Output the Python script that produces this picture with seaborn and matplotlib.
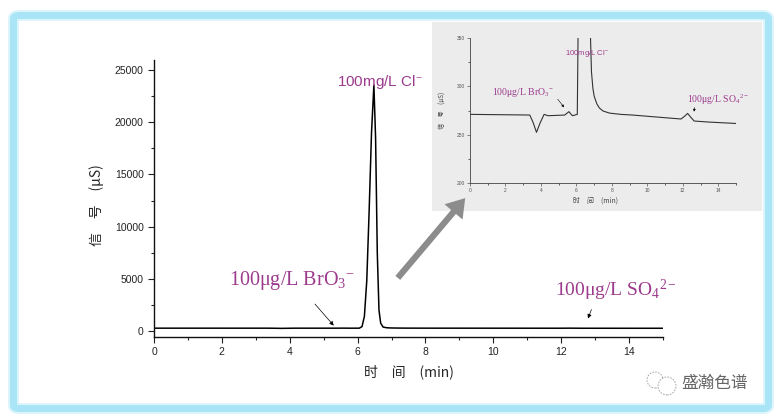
import numpy as np
import pandas as pd
import seaborn as sns
import matplotlib
matplotlib.use("Agg")
import matplotlib.pyplot as plt
from matplotlib.patches import FancyBboxPatch, FancyArrowPatch, Rectangle, Ellipse
from matplotlib.ticker import MultipleLocator

# chromatogram (time in min, signal in uS)
time_min = [0, 1, 2, 3, 3.37, 3.55, 3.75, 3.95, 4.18, 4.4, 5.34, 5.58, 5.77,
            6.05, 6.13, 6.2, 6.27, 6.34, 6.41, 6.48, 6.53, 6.58, 6.63, 6.68,
            6.75, 6.85, 6.93, 7.0, 7.15, 7.3, 7.5, 7.87, 8.5, 9.16, 11.9,
            12.1, 12.27, 12.45, 12.64, 13.5, 14.9, 15]
signal_us = [271, 270.8, 270.6, 270.4, 270.3, 263, 252.4, 262, 271, 269.6,
             270.3, 273.8, 269.6, 271, 420, 1400, 4800, 11500, 19000, 23560,
             18500, 7500, 2000, 750, 380, 315, 298, 290, 282, 277.5, 274.5,
             272.3, 271, 270.3, 266.2, 269, 272, 268, 264.1, 263, 261.7, 261.5]

main_xticks = [0, 2, 4, 6, 8, 10, 12, 14]
main_yticks = [0, 5000, 10000, 15000, 20000, 25000]
inset_yticks = [200, 250, 300, 350]

label_cl = "100mg/L Cl$^{-}$"
label_bro3 = "100\u03bcg/L BrO$_{3}$$^{-}$"
label_so4 = "100\u03bcg/L SO$_{4}$$^{2-}$"
xlabel = "时　间　(min)"
ylabel = "信　号　(\u03bcS)"
watermark = "盛瀚色谱"

df = pd.DataFrame({"time": time_min, "signal": signal_us})

sns.set_style("ticks")
plt.rcParams["font.family"] = ["Liberation Sans", "Noto Sans CJK SC", "DejaVu Sans"]
plt.rcParams["mathtext.fontset"] = "custom"
plt.rcParams["mathtext.rm"] = "Liberation Serif"
plt.rcParams["mathtext.it"] = "Liberation Serif:italic"

W, H = 780, 419
pink = "#9c3a8c"
cjk = ["Noto Sans CJK SC", "DejaVu Sans"]


def fx(px):
    return px / W


def fy(py):
    return 1 - py / H


fig = plt.figure(figsize=(7.8, 4.19), dpi=100)
fig.patch.set_facecolor("white")

# light blue frame
for lw, col in [(8, "#dcf4fb"), (5, "#a9e5f6")]:
    fig.add_artist(FancyBboxPatch((fx(13.5), fy(408.5)), fx(755), 393 / H,
                                  boxstyle="round,pad=0,rounding_size=0.008",
                                  transform=fig.transFigure, facecolor="none",
                                  edgecolor=col, linewidth=lw, zorder=0.2))

# grey panel behind the inset
fig.add_artist(Rectangle((fx(432), fy(211)), fx(762 - 432), (211 - 22) / H,
                         transform=fig.transFigure, facecolor="#ececec",
                         edgecolor="none", zorder=0.5))

# main chromatogram
ax = fig.add_axes([fx(154), fy(337), fx(663 - 154), (337 - 60) / H])
ax.set_facecolor("none")
sns.lineplot(data=df, x="time", y="signal", ax=ax, color="black", lw=1.1)
ax.set_xlim(0, 15)
ax.set_ylim(-575, 25960)
ax.set_xticks(main_xticks)
ax.set_yticks(main_yticks)
ax.xaxis.set_minor_locator(MultipleLocator(1))
ax.yaxis.set_minor_locator(MultipleLocator(2500))
ax.tick_params(which="major", direction="out", length=4, width=0.8,
               labelsize=7.5, colors="#222")
ax.tick_params(which="minor", direction="out", length=2.5, width=0.8)
sns.despine(ax=ax)
for s in ["left", "bottom"]:
    ax.spines[s].set_linewidth(1.0)
    ax.spines[s].set_color("#111")
ax.set_xlabel(xlabel, family=cjk, fontsize=10)
ax.set_ylabel(ylabel, family=cjk, fontsize=10)
ax.xaxis.set_label_coords(0.5, -(372 - 337 - 8) / 277)
ax.yaxis.set_label_coords(-(154 - 104) / 509, 0.476)

ax.text(5.39, 23470, label_cl, color=pink, fontsize=11, va="baseline")
ax.text(2.21, 4400, label_bro3, color=pink, fontsize=14.5, va="baseline",
        family="Liberation Serif")
ax.text(11.82, 3350, label_so4, color=pink, fontsize=14, va="baseline",
        family="Liberation Serif")
arrow_kw = dict(arrowstyle="-|>", color="black", lw=0.5, mutation_scale=6)
ax.annotate("", xy=(5.35, 320), xytext=(4.69, 2780), arrowprops=arrow_kw)
ax.annotate("", xy=(12.76, 950), xytext=(12.92, 2300), arrowprops=arrow_kw)

# inset zoom
axi = fig.add_axes([fx(470), fy(183), fx(736 - 470), (183 - 38) / H])
axi.set_zorder(2)
axi.set_facecolor("none")
sns.lineplot(data=df, x="time", y="signal", ax=axi, color="#333", lw=0.8)
axi.set_xlim(0, 15)
axi.set_ylim(200, 350)
axi.set_xticks(main_xticks)
axi.set_yticks(inset_yticks)
axi.xaxis.set_minor_locator(MultipleLocator(1))
axi.yaxis.set_minor_locator(MultipleLocator(25))
axi.tick_params(which="major", direction="out", length=2, width=0.5,
                labelsize=3.5, colors="#555", pad=1.5)
axi.tick_params(which="minor", direction="out", length=1.2, width=0.5)
sns.despine(ax=axi)
for s in ["left", "bottom"]:
    axi.spines[s].set_linewidth(0.6)
    axi.spines[s].set_color("#444")
axi.set_xlabel(xlabel, family=cjk, fontsize=5, color="#444")
axi.set_ylabel(ylabel, family=cjk, fontsize=4.5, color="#444")
axi.xaxis.set_label_coords(0.47, -(200 - 183 - 3) / 145)
axi.yaxis.set_label_coords(-(470 - 447) / 266, 0.5)

axi.text(5.34, 332, label_cl, color=pink, fontsize=5.5, va="baseline")
axi.text(1.24, 291, label_bro3, color=pink, fontsize=7, va="baseline",
         family="Liberation Serif")
axi.text(12.25, 282.5, label_so4, color=pink, fontsize=7, va="baseline",
         family="Liberation Serif")
small_kw = dict(arrowstyle="-|>", color="black", lw=0.4, mutation_scale=3.5)
axi.annotate("", xy=(5.4, 276), xytext=(4.85, 289), arrowprops=small_kw)
axi.annotate("", xy=(12.6, 271), xytext=(12.7, 281), arrowprops=small_kw)

# big grey arrow pointing to the inset
fig.add_artist(FancyArrowPatch((fx(396), fy(280)), (fx(467), fy(196)),
                               transform=fig.transFigure,
                               arrowstyle="simple,head_width=1.7,head_length=1.3,tail_width=0.45",
                               mutation_scale=10, color="#8c8c8c", lw=0, zorder=3))

# watermark
fig.text(fx(681), fy(383), watermark, family=cjk, fontsize=12, color="#666",
         va="center", ha="left")
for cx, cy, r in [(655, 380, 8), (667, 386, 9)]:
    fig.add_artist(Ellipse((fx(cx), fy(cy)), 2 * r / W, 2 * r / H,
                           transform=fig.transFigure, facecolor="white",
                           edgecolor="#999", lw=0.6, ls=(0, (2, 1.5)), zorder=3))

fig.savefig("out.png", dpi=100)
